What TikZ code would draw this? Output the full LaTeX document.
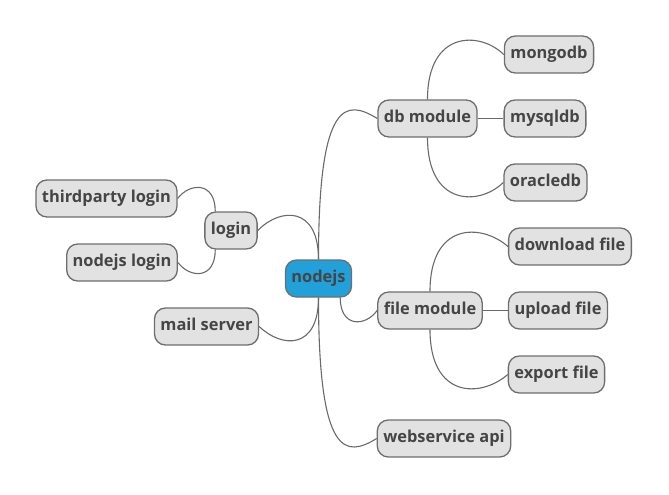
\documentclass[tikz,border=0pt]{standalone}
\usepackage{fontspec}
\setmainfont{Open Sans}
\definecolor{boxfill}{HTML}{E2E2E2}
\definecolor{boxline}{HTML}{6E6E6E}
\definecolor{txt}{HTML}{454545}
\definecolor{rootfill}{HTML}{22A0D9}
\definecolor{edgecol}{HTML}{6A6A6A}
\begin{document}
\begin{tikzpicture}[x=1pt,y=-1pt,
  mbox/.style={draw=boxline,fill=boxfill,line width=1.3pt,rounded corners=11pt,
    minimum height=37pt,inner xsep=6pt,inner ysep=0pt,text height=12pt,text depth=3.6pt,
    font=\fontsize{16.4}{18}\selectfont\bfseries,text=txt},
  rootbox/.style={mbox,fill=rootfill},
  link/.style={draw=edgecol,line width=1.1pt}]
\useasboundingbox (0,0) rectangle (669,495);
\node[rootbox] (nj) at (318.5,278.5) {nodejs};
\node[mbox] (db) at (427.5,118.5) {db module};
\node[mbox] (mongo) at (549,54.5) {mongodb};
\node[mbox] (mysql) at (545,118.5) {mysqldb};
\node[mbox] (oracle) at (545.5,182.5) {oracledb};
\node[mbox] (file) at (430,310.5) {file module};
\node[mbox] (dl) at (570,246.5) {download file};
\node[mbox] (up) at (558,310.5) {upload file};
\node[mbox] (ex) at (556.5,374.5) {export file};
\node[mbox] (web) at (444,438.5) {webservice api};
\node[mbox] (login) at (231,230.5) {login};
\node[mbox] (third) at (106.5,198.5) {thirdparty login};
\node[mbox] (njl) at (122,262.5) {nodejs login};
\node[mbox] (mail) at (206.5,326.5) {mail server};
% connectors
\draw[link] (nj.north) .. controls +(0,-161) and +(-31,-19) .. (db.west);
\draw[link] (nj.north) .. controls +(0,-53) and +(23,-23.5) .. (login.east);
\draw[link] (nj.south) .. controls +(0,52) and +(23,22) .. (mail.east);
\draw[link] (nj.south) .. controls +(0,160) and +(-31,19) .. (web.west);
\draw[link] ([xshift=-12pt]nj.south east) .. controls +(0,30) and +(-12,16.5) .. (file.west);
\draw[link] (db.north) .. controls +(0,-69) and +(-24,-23.5) .. (mongo.west);
\draw[link] (db.south) .. controls +(0,69) and +(-24,23.5) .. (oracle.west);
\draw[link] (db.east) -- (mysql.west);
\draw[link] (file.north) .. controls +(0,-69) and +(-27,-23.5) .. (dl.west);
\draw[link] (file.south) .. controls +(0,69) and +(-27,23.5) .. (ex.west);
\draw[link] (file.east) -- (up.west);
\draw[link] ([xshift=11pt]login.north west) .. controls +(0,-30) and +(12,-16) .. (third.east);
\draw[link] ([xshift=11pt]login.south west) .. controls +(0,30) and +(12,16) .. (njl.east);
\end{tikzpicture}
\end{document}
